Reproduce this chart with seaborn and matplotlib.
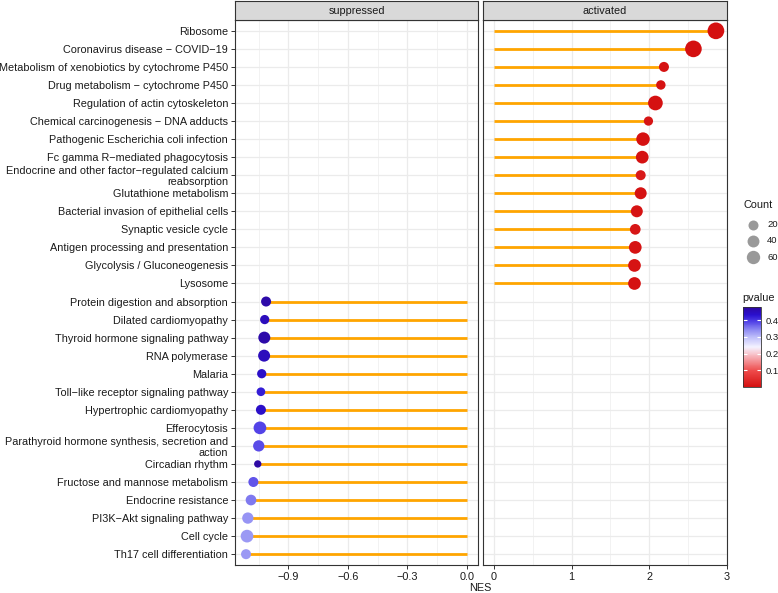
import numpy as np
import pandas as pd
import seaborn as sns
import matplotlib.pyplot as plt
import matplotlib.cm as cm
from matplotlib.colors import LinearSegmentedColormap, Normalize
from matplotlib.lines import Line2D
from matplotlib.ticker import FixedLocator, MultipleLocator

# activated pathways (top of the chart, top to bottom)
act_terms = ["Ribosome", "Coronavirus disease \u2212 COVID\u221219",
             "Metabolism of xenobiotics by cytochrome P450",
             "Drug metabolism \u2212 cytochrome P450", "Regulation of actin cytoskeleton",
             "Chemical carcinogenesis \u2212 DNA adducts", "Pathogenic Escherichia coli infection",
             "Fc gamma R\u2212mediated phagocytosis",
             "Endocrine and other factor\u2212regulated calcium\nreabsorption",
             "Glutathione metabolism", "Bacterial invasion of epithelial cells",
             "Synaptic vesicle cycle", "Antigen processing and presentation",
             "Glycolysis / Gluconeogenesis", "Lysosome"]
act_nes = [2.86, 2.57, 2.19, 2.15, 2.08, 1.99, 1.92, 1.91, 1.89, 1.89, 1.84, 1.82, 1.82, 1.81, 1.81]
act_pval = [0.001, 0.001, 0.004, 0.006, 0.002, 0.008, 0.003, 0.004, 0.015, 0.005, 0.006, 0.010, 0.006, 0.006, 0.005]
act_count = [152, 150, 28, 22, 104, 20, 80, 66, 28, 54, 54, 36, 66, 66, 66]

# suppressed pathways (bottom of the chart, top to bottom)
sup_terms = ["Protein digestion and absorption", "Dilated cardiomyopathy",
             "Thyroid hormone signaling pathway", "RNA polymerase", "Malaria",
             "Toll\u2212like receptor signaling pathway", "Hypertrophic cardiomyopathy",
             "Efferocytosis", "Parathyroid hormone synthesis, secretion and\naction",
             "Circadian rhythm", "Fructose and mannose metabolism", "Endocrine resistance",
             "PI3K\u2212Akt signaling pathway", "Cell cycle", "Th17 cell differentiation"]
sup_nes = [-1.012, -1.019, -1.021, -1.022, -1.034, -1.038, -1.038, -1.043, -1.049, -1.054,
           -1.076, -1.088, -1.104, -1.108, -1.113]
sup_pval = [0.47, 0.45, 0.47, 0.45, 0.44, 0.42, 0.44, 0.39, 0.385, 0.475, 0.38, 0.355, 0.335, 0.33, 0.33]
sup_count = [28, 20, 54, 54, 20, 15, 28, 66, 44, 6, 28, 36, 44, 66, 28]

count_breaks = [20, 40, 60]
pval_breaks = [0.1, 0.2, 0.3, 0.4]

df = pd.DataFrame({
    "term": act_terms + sup_terms,
    "NES": act_nes + sup_nes,
    "pvalue": act_pval + sup_pval,
    "Count": act_count + sup_count,
    "group": ["activated"] * len(act_terms) + ["suppressed"] * len(sup_terms),
})
df["pos"] = np.arange(len(df))

plt.rcParams["font.family"] = ["Liberation Sans", "DejaVu Sans"]

cmap = LinearSegmentedColormap.from_list("pv", [
    (0.0, "#D41010"), (0.2, "#EE4A4A"), (0.42, "#F8C8D0"), (0.5, "#F4F2FF"),
    (0.62, "#C0C0FA"), (0.72, "#8C88F2"), (0.82, "#5040E6"), (0.9, "#2A10D0"),
    (1.0, "#2E08A0")])
norm = Normalize(0, 0.48)


def point_area(c):
    # diameter in px grows with sqrt(count), converted to scatter area in pt^2
    d = 5.0 + 0.95 * np.sqrt(c)
    return (0.72 * d) ** 2


size_map = {c: point_area(c) for c in df["Count"].unique()}

W, H = 778, 593
fig = plt.figure(figsize=(W / 100, H / 100), dpi=100)


def box(x0, y0, x1, y1):
    return [x0 / W, 1 - y1 / H, (x1 - x0) / W, (y1 - y0) / H]


ax_s = fig.add_axes(box(235, 20, 478, 565))
ax_a = fig.add_axes(box(483, 20, 727, 565), sharey=ax_s)

for ax, grp in ((ax_s, "suppressed"), (ax_a, "activated")):
    sub = df[df.group == grp]
    ax.hlines(sub.pos, 0, sub.NES, color="#FFA500", lw=2.0, zorder=2)
    sns.scatterplot(data=sub, x="NES", y="pos", hue="pvalue", size="Count",
                    palette=cmap, hue_norm=norm, sizes=size_map,
                    linewidth=0, legend=False, ax=ax, zorder=3)
    ax.set_xlabel("")
    ax.set_ylabel("")
    ax.set_axisbelow(True)
    ax.grid(which="major", color="#EBEBEB", lw=0.9)
    ax.grid(which="minor", axis="x", color="#F0F0F0", lw=0.6)
    for sp in ax.spines.values():
        sp.set_color("#333333")
        sp.set_linewidth(0.8)
    ax.tick_params(axis="x", which="major", length=3, width=0.7, color="#333333",
                   labelsize=7.8, labelcolor="#1A1A1A", pad=2)
    ax.tick_params(which="minor", length=0)
    # strip on top of the panel
    p = ax.get_position()
    sax = fig.add_axes([p.x0, p.y1, p.width, 19 / H])
    sax.set_facecolor("#D9D9D9")
    sax.set_xticks([])
    sax.set_yticks([])
    for sp in sax.spines.values():
        sp.set_color("#333333")
        sp.set_linewidth(0.8)
    sax.text(0.5, 0.45, grp, ha="center", va="center", fontsize=7.8, color="#1A1A1A",
             transform=sax.transAxes)

lo = min(sup_nes)
ax_s.set_xlim(lo + 0.05 * lo, -0.05 * lo)
ax_s.xaxis.set_major_locator(FixedLocator([-0.9, -0.6, -0.3, 0.0]))
ax_s.xaxis.set_minor_locator(MultipleLocator(0.15))
hi = max(act_nes)
ax_a.set_xlim(-0.05 * hi, hi * 1.05)
ax_a.xaxis.set_major_locator(FixedLocator([0, 1, 2, 3]))
ax_a.xaxis.set_minor_locator(MultipleLocator(0.5))

ax_s.set_yticks(df.pos)
ax_s.set_yticklabels(df.term, linespacing=1.1, multialignment="right")
ax_s.set_ylim(len(df) - 0.4, -0.6)
ax_s.tick_params(axis="y", length=3, width=0.7, color="#333333", labelsize=7.8,
                 labelcolor="#1A1A1A", pad=2)
ax_a.tick_params(axis="y", left=False, labelleft=False)

fig.text(480 / W, 1 - 588 / H, "NES", ha="center", va="center", fontsize=7.8, color="#1A1A1A")

# Count legend (keys drawn in figure coordinates)
fig.text(744 / W, 1 - 205 / H, "Count", ha="left", va="center", fontsize=7.8, color="#1A1A1A")
for i, c in enumerate(count_breaks):
    yk = 1 - (224.5 + 16.3 * i) / H
    fig.add_artist(Line2D([752.5 / W], [yk], transform=fig.transFigure, ls="",
                          marker="o", color="#999999", markeredgewidth=0,
                          markersize=np.sqrt(point_area(c)) * 1.08))
    fig.text(767 / W, yk, str(c), ha="left", va="center", fontsize=6.8, color="#1A1A1A")

# pvalue colour bar
fig.text(742 / W, 1 - 298 / H, "pvalue", ha="left", va="center", fontsize=7.8, color="#1A1A1A")
cax = fig.add_axes(box(743, 307, 761, 387))
cb = fig.colorbar(cm.ScalarMappable(norm=norm, cmap=cmap), cax=cax)
cb.set_ticks(pval_breaks)
cb.outline.set_edgecolor("#333333")
cb.outline.set_linewidth(0.6)
cax.tick_params(direction="in", color="white", length=3, width=0.8, left=True, right=True,
                labelsize=6.8, labelcolor="#1A1A1A", pad=3)

fig.savefig("out.png", dpi=100)
